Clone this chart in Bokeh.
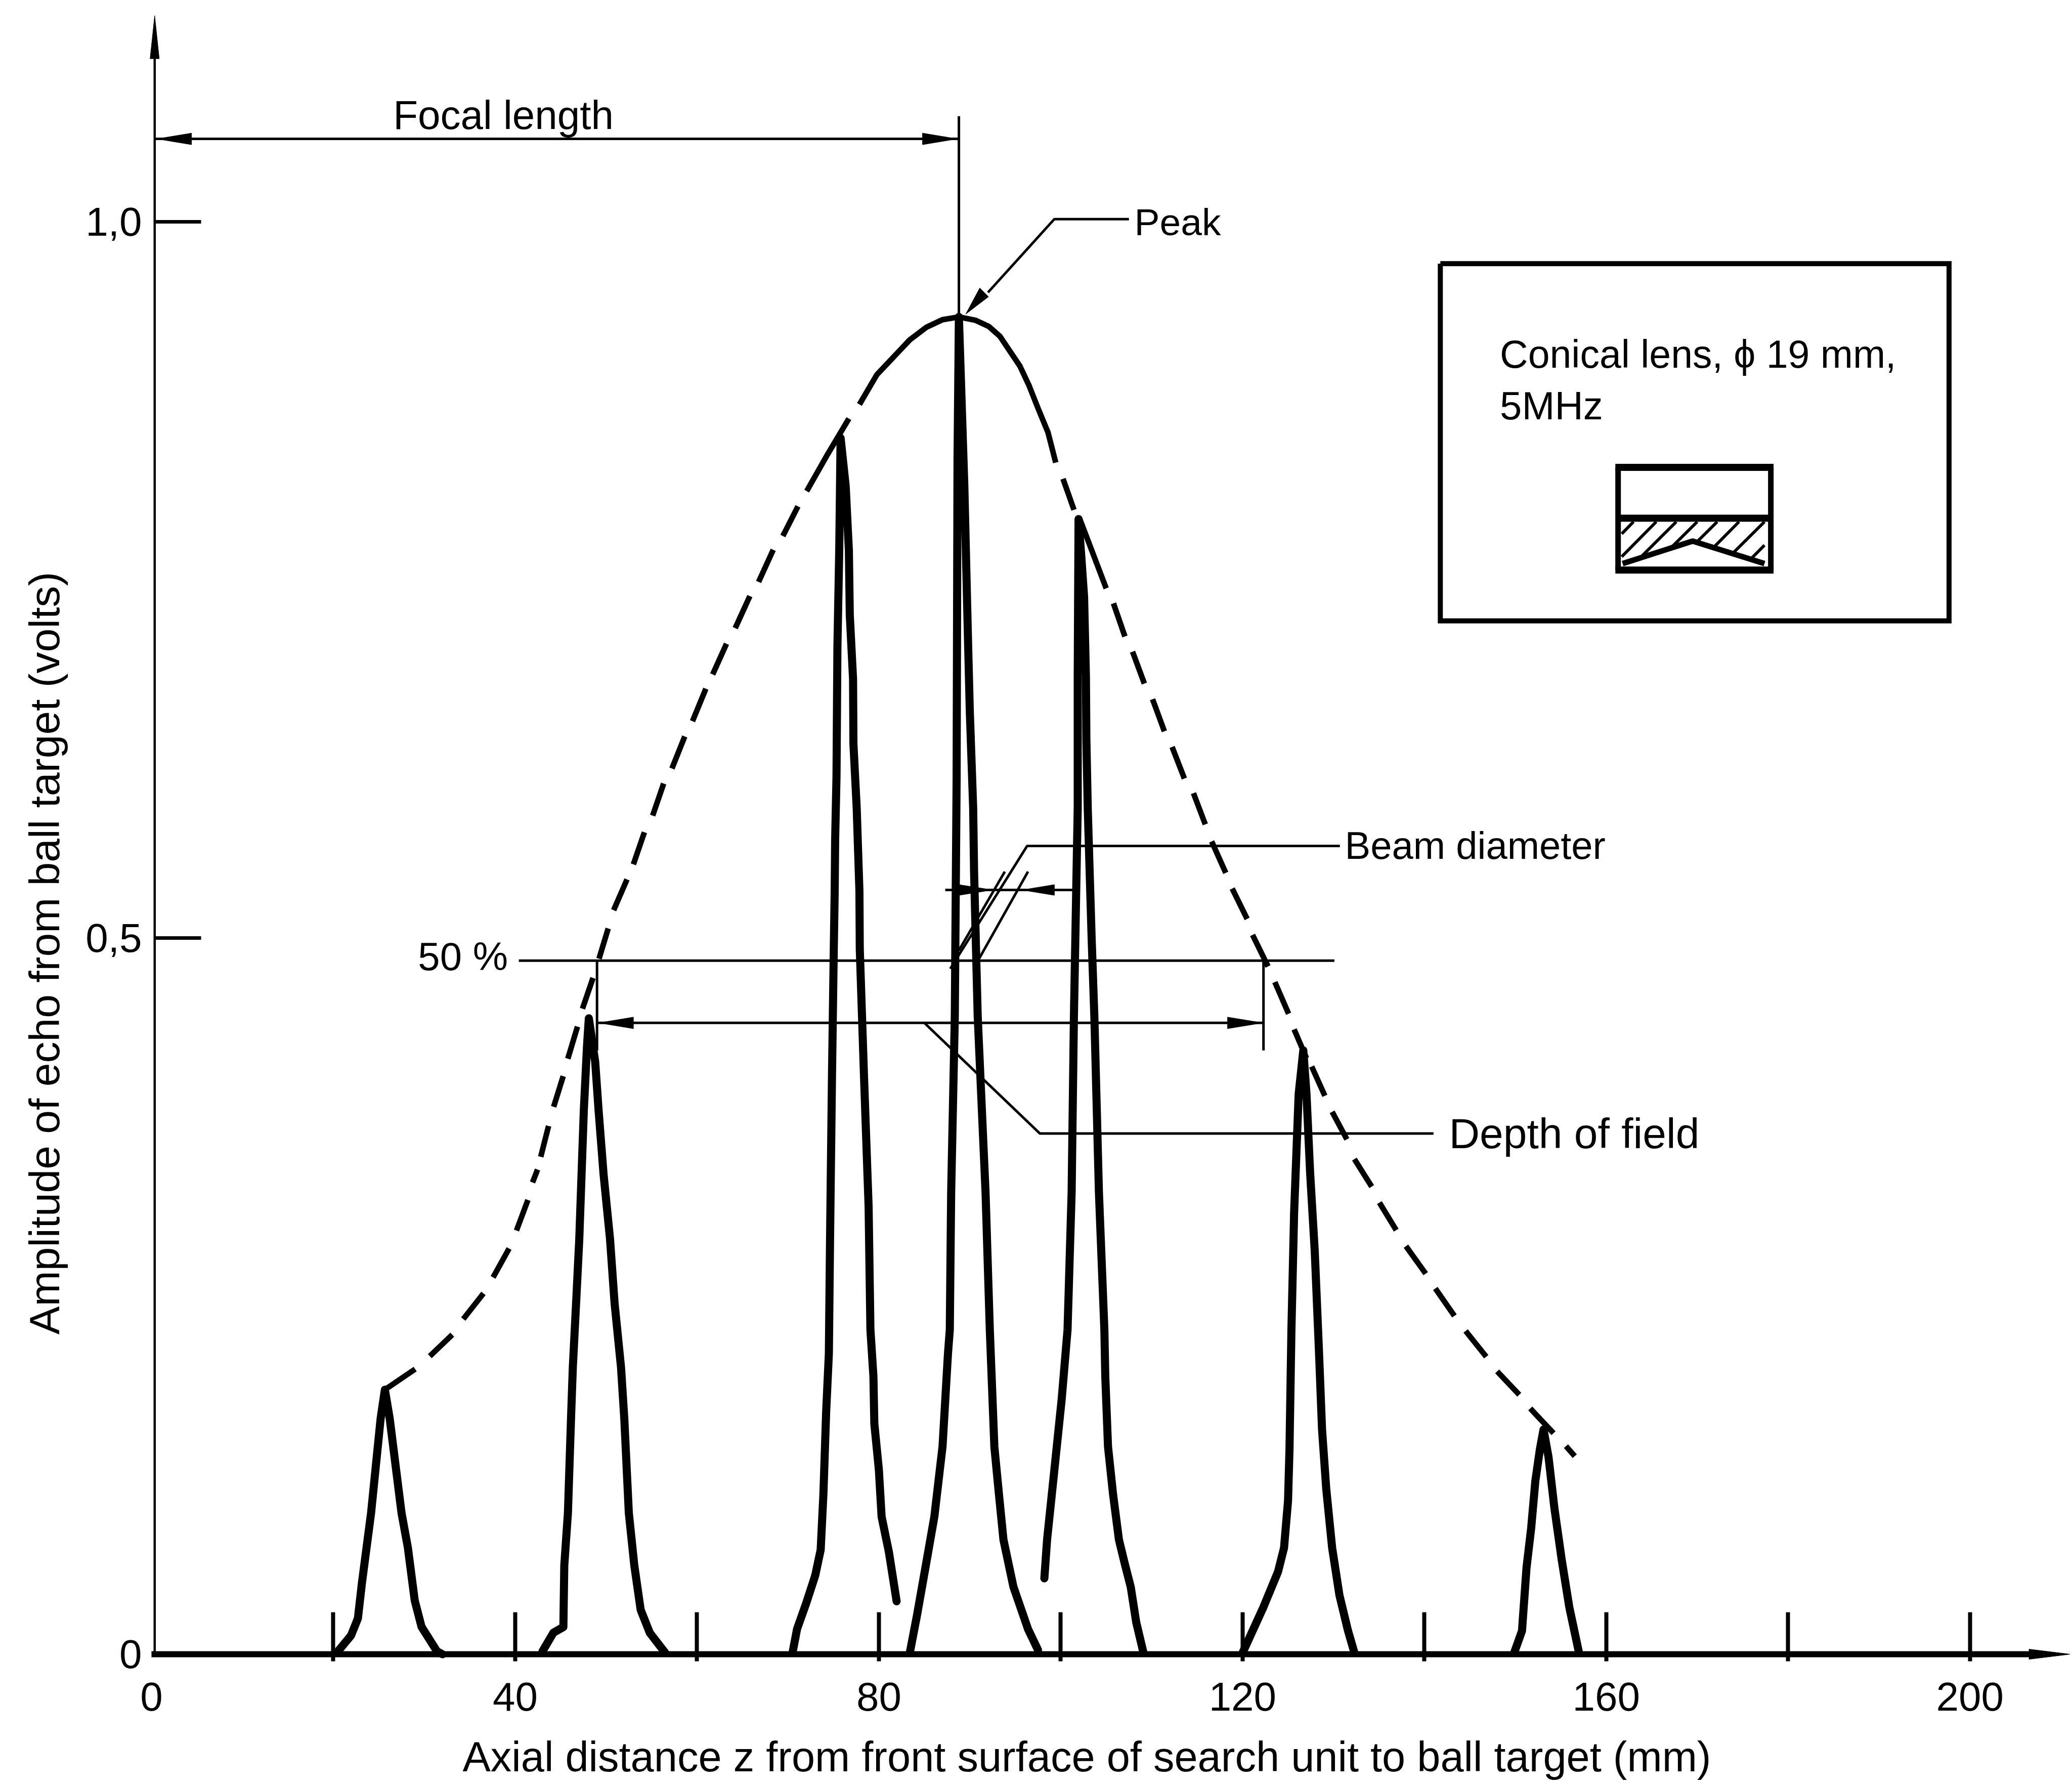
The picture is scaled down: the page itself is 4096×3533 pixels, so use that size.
from bokeh.plotting import figure
from bokeh.models import FixedTicker, Label, Range1d, Title
from bokeh.embed import file_html
from bokeh.resources import INLINE

FONT = "Liberation Sans"
FS = "80px"

# ---- tick labels
x_major = [0, 40, 80, 120, 160, 200]
x_minor = [20, 40, 60, 80, 100, 120, 140, 160, 180, 200]
y_major = [0, 0.5, 1.0]
x_labels = {0: "0", 40: "40", 80: "80", 120: "120", 160: "160", 200: "200"}
y_labels = {0: "0", 0.5: "0,5", 1: "1,0"}

# ---- envelope: dashed flanks, each dash
dash_left_z = [[25.67, 29.0], [30.61, 33.08], [34.29, 36.51], [37.57, 39.33], [40.14, 41.4], [41.91, 42.46],
               [42.81, 43.67], [44.23, 45.28], [45.79, 46.85], [47.4, 48.56], [49.22, 50.23], [50.83, 52.3],
               [53.0, 54.21], [55.12, 56.33], [57.24, 58.65], [59.5, 60.97], [61.72, 63.24], [64.2, 65.81],
               [66.77, 68.38], [69.44, 71.1], [72.06, 74.38, 76.7]]
dash_left_v = [[0.1847, 0.1991], [0.2081, 0.2231], [0.234, 0.2519], [0.2631, 0.2833], [0.2958, 0.3172], [0.3294, 0.3384],
               [0.3473, 0.3688], [0.3822, 0.4036], [0.4158, 0.4382], [0.4507, 0.4722], [0.4856, 0.5067], [0.5195, 0.541],
               [0.5515, 0.5739], [0.5855, 0.6079], [0.6184, 0.6408], [0.6514, 0.6741], [0.6841, 0.7055], [0.7164, 0.7388],
               [0.7487, 0.7711], [0.7807, 0.8015], [0.8121, 0.838, 0.8627]]
env_top_z = [77.86, 79.78, 81.6, 83.4, 85.2, 87.0, 88.8, 90.6, 92.1, 93.3, 94.45, 95.5, 96.5, 97.5, 98.6, 99.45]
env_top_v = [0.8726, 0.8934, 0.9056, 0.9177, 0.9264, 0.9318, 0.9337, 0.9314, 0.927, 0.9203, 0.9094, 0.8995, 0.886, 0.87, 0.8531, 0.832]
dash_right_z = [[100.25, 101.46], [102.1, 105.0], [105.8, 107.06], [107.9, 109.2], [110.1, 111.4], [112.25, 113.6],
                [114.6, 115.9], [116.6, 118.15], [118.86, 120.5], [121.1, 122.8], [123.55, 125.06], [125.67, 127.03],
                [127.6, 129.05], [129.85, 131.47], [132.3, 134.2], [135.05, 136.9], [137.97, 140.14], [141.2, 143.3],
                [144.53, 146.8], [148.0, 150.43], [151.64, 154.2], [155.57, 156.53]]
dash_right_v = [[0.8207, 0.799], [0.7926, 0.7442], [0.7337, 0.7106], [0.7, 0.6777], [0.6668, 0.6444], [0.6335, 0.6114],
                [0.6012, 0.5794], [0.5675, 0.5455], [0.5346, 0.5134], [0.5022, 0.4802], [0.4693, 0.4472], [0.4363, 0.4161],
                [0.4104, 0.3899], [0.3787, 0.3595], [0.3457, 0.3265], [0.3153, 0.2961], [0.2849, 0.2657], [0.2554, 0.2362],
                [0.2257, 0.2077], [0.1975, 0.1812], [0.1716, 0.1543], [0.1453, 0.1383]]

# ---- the echo traces
peak1_z = [20.5, 21.94, 22.7, 23.15, 24.15, 25.2, 25.67, 26.2, 27.5, 28.2, 28.95, 29.7, 31.4, 32.0]
peak1_v = [0.002, 0.013, 0.025, 0.05, 0.0986, 0.1645, 0.1847, 0.1645, 0.0986, 0.0743, 0.0375, 0.0192, 0.002, 0.0]
peak2_z = [43.0, 44.2, 45.3, 45.4, 45.8, 46.14, 46.34, 46.7, 47.05, 47.3, 47.55, 47.9, 48.1, 48.8, 49.17, 49.72,
           50.43, 50.93, 51.64, 52.0, 52.5, 53.1, 53.8, 54.8, 56.5]
peak2_v = [0.002, 0.015, 0.019, 0.062, 0.0986, 0.1645, 0.2004, 0.2452, 0.29, 0.3351, 0.38, 0.4248, 0.444, 0.4136, 0.38, 0.3351,
           0.29, 0.2452, 0.2004, 0.1645, 0.0986, 0.062, 0.031, 0.015, 0.001]
peak3_z = [70.5, 71.0, 72.0, 73.0, 73.6, 73.9, 74.2, 74.5, 74.63, 74.84, 75.04, 75.14, 75.19, 75.34, 75.44, 75.64, 75.79,
           76.35, 76.7, 76.8, 77.16, 77.2, 77.56, 77.86, 77.9, 78.37, 78.87, 79.07, 79.4, 79.5, 80.0, 80.3, 81.1, 81.95]
peak3_v = [0.001, 0.0176, 0.0355, 0.055, 0.073, 0.112, 0.169, 0.21, 0.29, 0.4024, 0.4923, 0.5327, 0.5685, 0.6133, 0.7033, 0.7705, 0.8492,
           0.8156, 0.7705, 0.7257, 0.6808, 0.6357, 0.5909, 0.5327, 0.4923, 0.4024, 0.3127, 0.2266, 0.194, 0.161, 0.1287, 0.096, 0.0714, 0.037]
peak4_z = [83.4, 84.2, 85.2, 86.1, 87.0, 87.6, 87.8, 87.95, 88.35, 88.55, 88.65, 88.8, 89.4, 89.76, 90.0, 90.37, 90.47, 90.87,
           91.73, 92.2, 92.4, 92.7, 93.2, 93.7, 94.8, 96.4, 97.5]
peak4_v = [0.001, 0.0275, 0.0634, 0.096, 0.145, 0.21, 0.2266, 0.3227, 0.445, 0.611, 0.8348, 0.9337, 0.8156, 0.719, 0.6584, 0.5909, 0.5461, 0.4453,
           0.3227, 0.2266, 0.194, 0.145, 0.112, 0.08, 0.047, 0.0176, 0.003]
peak5_z = [98.2, 98.5, 99.3, 100.1, 100.75, 101.2, 101.45, 101.87, 101.87, 101.96, 102.27, 102.57, 102.77, 102.82, 102.97, 103.4, 103.7,
           104.2, 104.8, 104.9, 105.2, 105.75, 106.4, 107.05, 107.7, 108.3, 109.1]
peak5_v = [0.053, 0.08, 0.1287, 0.1777, 0.2266, 0.3227, 0.445, 0.5912, 0.6831, 0.7926, 0.7657, 0.7382, 0.6831, 0.6389, 0.5912, 0.5, 0.445,
           0.3227, 0.2266, 0.194, 0.145, 0.112, 0.08, 0.063, 0.047, 0.0224, 0.001]
peak6_z = [120.0, 122.3, 123.9, 124.56, 125.0, 125.16, 125.37, 125.67, 126.17, 126.68, 127.03, 127.43, 127.94, 128.4, 128.74, 129.2, 129.85, 130.66, 131.6, 132.3]
peak6_v = [0.001, 0.033, 0.0576, 0.0743, 0.1072, 0.1431, 0.2257, 0.3086, 0.3912, 0.4216, 0.3912, 0.3361, 0.2811, 0.2119, 0.1569, 0.1156, 0.0743, 0.041, 0.0163, 0.001]
peak7_z = [149.87, 150.73, 151.23, 151.74, 152.2, 152.7, 153.1, 153.65, 154.3, 155.1, 155.93, 157.0]
peak7_v = [0.001, 0.0163, 0.0605, 0.088, 0.121, 0.1431, 0.1569, 0.1376, 0.1018, 0.0659, 0.033, 0.001]
peaks = [(peak1_z, peak1_v), (peak2_z, peak2_v), (peak3_z, peak3_v), (peak4_z, peak4_v),
         (peak5_z, peak5_v), (peak6_z, peak6_v), (peak7_z, peak7_v)]

# ---- construction lines (z in mm, v in volts)
thin_z = [[0.35, 88.8], [88.8, 88.8], [92.0, 99.3, 107.5], [40.4, 130.1], [49.0, 49.0], [122.3, 122.3],
          [49.0, 122.3], [87.3, 101.4], [130.7, 96.3, 87.85], [96.4, 90.4], [93.85, 88.8],
          [85.0, 97.7, 141.0]]
thin_v = [[1.058, 1.058], [1.0738, 0.93], [0.9508, 1.002, 1.002], [0.4843, 0.4843], [0.4843, 0.4216], [0.4843, 0.4216],
          [0.4408, 0.4408], [0.5336, 0.5336], [0.5643, 0.5643, 0.4786], [0.5464, 0.4786], [0.5464, 0.4914],
          [0.4408, 0.3636, 0.3636]]

# ---- arrow heads
head_z = [[0.6, 4.4, 4.4], [88.6, 84.8, 84.8], [89.56, 91.1, 92.05],
          [49.2, 53.0, 53.0], [122.2, 118.35, 118.35],
          [92.5, 88.8, 88.8], [95.75, 99.3, 99.3],
          [0.35, -0.15, 0.85], [211.0, 206.5, 206.5]]
head_v = [[1.058, 1.062, 1.054], [1.058, 1.062, 1.054], [0.9357, 0.9539, 0.9478],
          [0.4408, 0.4448, 0.4368], [0.4408, 0.4448, 0.4368],
          [0.5336, 0.5373, 0.5299], [0.5336, 0.5373, 0.5299],
          [1.144, 1.114, 1.114], [0.0, 0.0035, -0.0035]]

# ---- axis lines
axis_y_z = [0.35, 0.35]
axis_y_v = [0.0, 1.125]
axis_x_z = [0.0, 207.0]
axis_x_v = [0.0, 0.0]

# ---- inset box and the lens sketch
box_z = [141.75, 197.7, 197.7, 141.75, 141.75]
box_v = [0.9709, 0.9709, 0.7215, 0.7215, 0.9709]
lens_h_z = [[161.0, 178.4], [161.0, 178.4], [161.3, 178.1]]
lens_h_v = [[0.8287, 0.8287], [0.7570, 0.7570], [0.7932, 0.7932]]
lens_s_z = [[161.3, 161.3], [178.1, 178.1]]
lens_s_v = [[0.8287, 0.7570], [0.8287, 0.7570]]
cone_z = [161.8, 169.5, 177.4]
cone_v = [0.7615, 0.7772, 0.7615]
hatch_z = [[163.0, 161.7], [165.5, 161.7], [167.7, 163.5], [170.0, 167.0], [172.2, 169.9],
           [174.6, 171.8], [177.4, 173.9], [177.4, 175.9]]
hatch_v = [[0.7907, 0.7823], [0.7907, 0.7663], [0.7907, 0.7641], [0.7907, 0.7718], [0.7907, 0.7762],
           [0.7907, 0.7727], [0.7907, 0.7686], [0.7743, 0.7647]]

# ---- texts: text, z, v, align, size
texts = [("Focal length", 38.7, 1.0747, "center", "80px"),
         ("Peak", 108.1, 1.0, "left", "75px"),
         ("Conical lens, \u03d5 19 mm,", 148.3, 0.9077, "left", "77px"),
         ("5MHz", 148.3, 0.8718, "left", "78px"),
         ("Beam diameter", 131.25, 0.5646, "left", "76px"),
         ("50 %", 39.2, 0.4871, "right", "78px"),
         ("Depth of field", 142.7, 0.3635, "left", "84px")]
x_title = "Axial distance z  from front surface of search unit to ball target (mm)"
y_title = "Amplitude of echo from ball target (volts)"

p = figure(width=4096, height=3533, frame_width=3815, frame_height=3284,
           x_range=Range1d(-1.0, 211.25), y_range=Range1d(-0.00494, 1.1548),
           output_backend="svg", toolbar_location=None,
           min_border_left=281, min_border_right=0, min_border_top=0, min_border_bottom=249)
p.grid.visible = False
p.outline_line_color = None
p.background_fill_color = "white"

xa = p.xaxis[0]
xa.ticker = FixedTicker(ticks=x_major, minor_ticks=x_minor)
xa.major_label_overrides = x_labels
xa.axis_line_color = None
xa.major_tick_in = 0
xa.major_tick_out = 0
xa.minor_tick_in = 97
xa.minor_tick_out = 0
xa.minor_tick_line_width = 8
xa.minor_tick_line_color = "black"
xa.major_label_text_font = FONT
xa.major_label_text_font_size = FS
xa.major_label_text_color = "black"
xa.major_label_standoff = 42

ya = p.yaxis[0]
ya.ticker = FixedTicker(ticks=y_major)
ya.major_label_overrides = y_labels
ya.axis_line_color = None
ya.major_tick_in = 116
ya.major_tick_out = -24
ya.major_tick_line_width = 7
ya.major_tick_line_color = "black"
ya.minor_tick_line_color = None
ya.major_label_text_font = FONT
ya.major_label_text_font_size = FS
ya.major_label_text_color = "black"
ya.major_label_standoff = 1
ya.major_label_orientation = "horizontal"

p.add_layout(Title(text=x_title, align="left", offset=633, standoff=80, text_font=FONT,
                   text_font_size="83px", text_font_style="normal", text_color="black"), "below")
p.add_layout(Title(text=y_title, align="left", offset=646, standoff=60, vertical_align="top", text_font=FONT,
                   text_font_size="84px", text_font_style="normal", text_color="black"), "left")

p.line(axis_y_z, axis_y_v, line_color="black", line_width=4.5)
p.line(axis_x_z, axis_x_v, line_color="black", line_width=12)

p.multi_line(dash_left_z, dash_left_v, line_color="black", line_width=11)
p.line(env_top_z, env_top_v, line_color="black", line_width=11, line_join="round")
p.multi_line(dash_right_z, dash_right_v, line_color="black", line_width=11)

for z, v in peaks:
    p.line(z, v, line_color="black", line_width=16, line_join="round", line_cap="round")

p.multi_line(thin_z, thin_v, line_color="black", line_width=5)
p.patches(head_z, head_v, fill_color="black", line_color="black", line_width=1)

p.line(box_z, box_v, line_color="black", line_width=10, line_join="miter")
p.multi_line(lens_h_z, lens_h_v, line_color="black", line_width=14)
p.multi_line(lens_s_z, lens_s_v, line_color="black", line_width=11)
p.multi_line(hatch_z, hatch_v, line_color="black", line_width=6)
p.line(cone_z, cone_v, line_color="black", line_width=11)

for t, z, v, al, fs in texts:
    p.add_layout(Label(x=z, y=v, x_units="data", y_units="data", text=t, text_font=FONT,
                       text_font_size=fs, text_align=al, text_baseline="middle", text_color="black"))

open("out.html", "w").write(file_html(p, INLINE))
